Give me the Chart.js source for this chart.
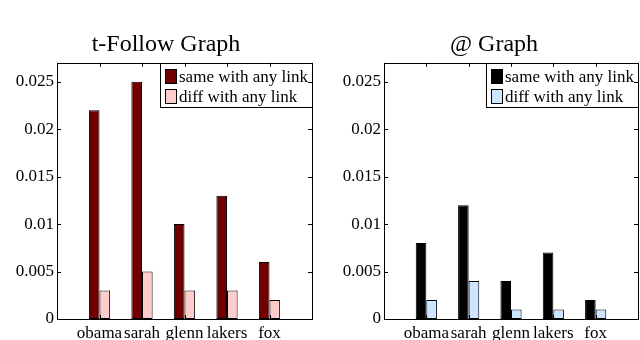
<!DOCTYPE html>
<html>
<head>
<meta charset="utf-8">
<script src="https://cdn.jsdelivr.net/npm/chart.js"></script>
<style>
    html, body { margin: 0; padding: 0; background: #fff; overflow: hidden; width: 640px; height: 340px; }
    .panel { position: absolute; top: 0; height: 340px; }
</style>
</head>
<body>
<div class="panel" style="left:0;width:332px"><canvas id="followChart"></canvas></div>
<div class="panel" style="left:340px;width:308px"><canvas id="atChart"></canvas></div>

<script>
    // categories and values
    var categories = ['obama', 'sarah', 'glenn', 'lakers', 'fox'];
    var followSame = [0.022, 0.025, 0.010, 0.013, 0.006];
    var followDiff = [0.003, 0.005, 0.003, 0.003, 0.002];
    var atSame = [0.008, 0.012, 0.004, 0.007, 0.002];
    var atDiff = [0.002, 0.004, 0.001, 0.001, 0.001];
    var seriesLabels = ['same with any link', 'diff with any link'];

    var FONT = '"Liberation Serif", "Times New Roman", serif';
    Chart.defaults.color = '#000';
    Chart.defaults.font.family = FONT;

    // matlab style box with inward ticks
    var framePlugin = {
        id: 'frame',
        afterDraw: function (chart) {
            var ctx = chart.ctx, a = chart.chartArea;
            var x = chart.scales.x, y = chart.scales.y;
            ctx.save();
            ctx.strokeStyle = '#000';
            ctx.lineWidth = 1;
            ctx.beginPath();
            y.ticks.forEach(function (t) {
                var py = Math.round(y.getPixelForValue(t.value)) + 0.5;
                ctx.moveTo(a.left, py); ctx.lineTo(a.left + 4, py);
                ctx.moveTo(a.right, py); ctx.lineTo(a.right - 4, py);
            });
            x.ticks.forEach(function (t) {
                var px = Math.round(x.getPixelForValue(t.value)) + 0.5;
                ctx.moveTo(px, a.top); ctx.lineTo(px, a.top + 4);
                ctx.moveTo(px, a.bottom); ctx.lineTo(px, a.bottom - 4);
            });
            ctx.stroke();
            ctx.strokeRect(Math.round(a.left) + 0.5, Math.round(a.top) + 0.5,
                Math.round(a.right - a.left), Math.round(a.bottom - a.top));
            ctx.restore();
        }
    };

    // legend box drawn inside the top right corner of the plot
    var legendPlugin = {
        id: 'boxLegend',
        afterDatasetsDraw: function (chart) {
            var ctx = chart.ctx, a = chart.chartArea;
            var sets = chart.data.datasets;
            ctx.save();
            ctx.font = '17px ' + FONT;
            var w = 0;
            sets.forEach(function (ds) { w = Math.max(w, ctx.measureText(ds.label).width); });
            var bw = Math.round(w + 23), bh = 44;
            var x0 = Math.round(a.right) - bw, y0 = Math.round(a.top);
            ctx.fillStyle = '#fff';
            ctx.fillRect(x0, y0, bw, bh);
            ctx.strokeStyle = '#000';
            ctx.lineWidth = 1;
            ctx.strokeRect(x0 + 0.5, y0 + 0.5, bw, bh);
            sets.forEach(function (ds, i) {
                var cy = y0 + 14 + i * 20;
                ctx.fillStyle = ds.backgroundColor;
                ctx.fillRect(x0 + 5, cy - 8, 12, 15);
                ctx.strokeRect(x0 + 5.5, cy - 7.5, 11, 14);
                ctx.fillStyle = '#000';
                ctx.textBaseline = 'middle';
                ctx.fillText(ds.label, x0 + 19, cy + 1);
            });
            ctx.restore();
        }
    };

    function toPoints(values) {
        return values.map(function (v, i) { return { x: i + 1, y: v }; });
    }

    function createBarChart(id, title, same, diff, sameColor, diffColor, yWidth, padRight) {
        var ctx = document.getElementById(id).getContext('2d');
        return new Chart(ctx, {
            type: 'bar',
            data: {
                datasets: [
                    {
                        label: seriesLabels[0],
                        data: toPoints(same),
                        backgroundColor: sameColor,
                        borderColor: '#000',
                        borderWidth: 1,
                        borderSkipped: false,
                        categoryPercentage: 0.5,
                        barPercentage: 1.0
                    },
                    {
                        label: seriesLabels[1],
                        data: toPoints(diff),
                        backgroundColor: diffColor,
                        borderColor: '#000',
                        borderWidth: 1,
                        borderSkipped: false,
                        categoryPercentage: 0.5,
                        barPercentage: 1.0
                    }
                ]
            },
            options: {
                responsive: true,
                maintainAspectRatio: false,
                animation: false,
                layout: { padding: 0 },
                plugins: {
                    legend: { display: false },
                    tooltip: { enabled: false },
                    title: {
                        display: true,
                        text: title,
                        font: { size: 24, weight: 'normal', family: FONT },
                        color: '#000',
                        padding: { top: 30, bottom: 4 }
                    }
                },
                scales: {
                    x: {
                        type: 'linear',
                        min: 0,
                        max: 6,
                        offset: false,
                        grid: { display: false, offset: false, drawTicks: false },
                        border: { display: false },
                        ticks: {
                            stepSize: 1,
                            autoSkip: false,
                            maxRotation: 0,
                            padding: 4,
                            font: { size: 17, family: FONT },
                            callback: function (v) { return categories[v - 1] || ''; }
                        },
                        afterFit: function (scale) { scale.height = 21; }
                    },
                    y: {
                        min: 0,
                        max: 0.027,
                        grid: { display: false, drawTicks: false },
                        border: { display: false },
                        ticks: {
                            stepSize: 0.005,
                            includeBounds: false,
                            padding: 3,
                            font: { size: 17, family: FONT },
                            callback: function (v) { return String(+v.toFixed(4)); }
                        },
                        afterFit: function (scale) { scale.width = yWidth; }
                    },
                    // empty spacer on the right so the title stays centred on the canvas
                    spacer: {
                        position: 'right',
                        grid: { display: false, drawTicks: false },
                        border: { display: false },
                        ticks: { display: false },
                        afterFit: function (scale) { scale.width = padRight; }
                    }
                }
            },
            plugins: [legendPlugin, framePlugin]
        });
    }

    createBarChart('followChart', 't-Follow Graph', followSame, followDiff, '#700000', '#ffcccc', 57, 20);
    createBarChart('atChart', '@ Graph', atSame, atDiff, '#000000', '#cce6ff', 44, 10);
</script>
</body>
</html>
